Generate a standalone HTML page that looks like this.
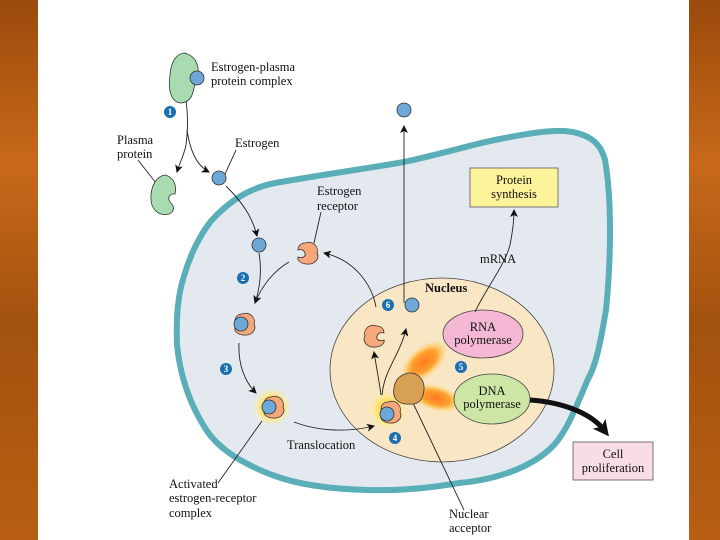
<!DOCTYPE html>
<html><head><meta charset="utf-8"><style>
html,body{margin:0;padding:0;width:720px;height:540px;overflow:hidden;background:#fff}
svg{display:block}
text{font-family:"Liberation Serif",serif;font-size:12.5px;fill:#111}
</style></head><body>
<svg width="720" height="540" viewBox="0 0 720 540" xmlns="http://www.w3.org/2000/svg">
<defs>
<linearGradient id="bd" x1="0" y1="0" x2="0" y2="1">
<stop offset="0" stop-color="#9a4a0c"/><stop offset="0.3" stop-color="#c8681a"/><stop offset="0.6" stop-color="#a2520f"/><stop offset="1" stop-color="#b85e14"/></linearGradient>
<radialGradient id="glow"><stop offset="0" stop-color="#ff7a20"/><stop offset="0.55" stop-color="#ffa030"/><stop offset="1" stop-color="#ffd84a" stop-opacity="0"/></radialGradient>
<radialGradient id="yg"><stop offset="0.5" stop-color="#ffe060"/><stop offset="1" stop-color="#fff4b0" stop-opacity="0"/></radialGradient>
<marker id="ah" markerWidth="8" markerHeight="8" refX="7" refY="4" orient="auto" markerUnits="userSpaceOnUse"><path d="M0,0 L8,4 L0,8 L2,4Z" fill="#111"/></marker>
<marker id="bh" markerWidth="16" markerHeight="16" refX="8" refY="8" orient="auto" markerUnits="userSpaceOnUse"><path d="M0,0 L16,8 L0,16 L4,8Z" fill="#111"/></marker>
</defs>
<rect x="0" y="0" width="38" height="540" fill="url(#bd)"/>
<rect x="689" y="0" width="31" height="540" fill="url(#bd)"/>
<path d="M211,221 C230,200 250,188 275,183 C320,175 370,168 404,162 C450,152 480,142 505,138 C530,133 550,130 565,131 C585,133 600,140 605,160 C612,200 611,260 606,310 C600,345 596,365 588,379 C575,410 565,435 551,448 C530,468 495,480 459,483 C430,488 400,491 367,490 C330,489 300,485 275,476 C245,465 220,450 207,431 C190,405 180,375 177,345 C176,315 178,295 184,276 C190,255 200,235 211,221Z" fill="#e4e9f0" stroke="#5aaeb8" stroke-width="6"/>
<ellipse cx="442" cy="370" rx="112" ry="92" fill="#f8e6c4" stroke="#444" stroke-width="0.8"/>
<ellipse cx="424" cy="362" rx="28" ry="15" transform="rotate(-40 424 362)" fill="url(#glow)"/>
<ellipse cx="436" cy="398" rx="26" ry="13" transform="rotate(15 436 398)" fill="url(#glow)"/>
<circle cx="272" cy="407" r="20" fill="url(#yg)"/>
<circle cx="388" cy="410" r="20" fill="url(#yg)"/>
<ellipse cx="483" cy="334" rx="40" ry="24" fill="#f5b8d4" stroke="#444" stroke-width="0.8"/>
<ellipse cx="492" cy="399" rx="38" ry="25" fill="#cde6a6" stroke="#444" stroke-width="0.8"/>
<text x="483" y="331" text-anchor="middle">RNA</text><text x="483" y="344" text-anchor="middle">polymerase</text>
<text x="492" y="395" text-anchor="middle">DNA</text><text x="492" y="408" text-anchor="middle">polymerase</text>
<rect x="470" y="168" width="88" height="39" fill="#fdf39a" stroke="#555" stroke-width="0.8"/>
<text x="514" y="184" text-anchor="middle">Protein</text><text x="514" y="198" text-anchor="middle">synthesis</text>
<rect x="573" y="442" width="80" height="38" fill="#f8dce6" stroke="#555" stroke-width="0.8"/>
<text x="613" y="458" text-anchor="middle">Cell</text><text x="613" y="472" text-anchor="middle">proliferation</text>
<g fill="none" stroke="#222" stroke-width="0.9">
<path d="M186,100 C188,115 188,130 186,145 C184,155 180,162 177,172" marker-end="url(#ah)"/>
<path d="M187,130 C190,150 196,165 209,172" marker-end="url(#ah)"/>
<path d="M226,186 C240,200 252,215 257,236" marker-end="url(#ah)"/>
<path d="M259,253 C262,270 260,288 255,303" marker-end="url(#ah)"/>
<path d="M289,262 C275,270 262,285 255,303" marker-end="url(#ah)"/>
<path d="M239,343 C238,365 245,382 256,393" marker-end="url(#ah)"/>
<path d="M294,422 C320,432 350,432 374,426" marker-end="url(#ah)"/>
<path d="M381,395 C379,380 376,365 374,352" marker-end="url(#ah)"/>
<path d="M382,395 C384,370 400,355 406,329" marker-end="url(#ah)"/>
<path d="M376,307 C372,285 355,260 324,253" marker-end="url(#ah)"/>
<path d="M404,303 L404,126" marker-end="url(#ah)"/>
<path d="M475,312 C485,290 505,265 510,245 C513,230 514,220 514,210" marker-end="url(#ah)"/>
<path d="M262,421 L218,483"/>
<path d="M413,403 L464,510"/>
<path d="M236,150 L225,174"/>
<path d="M138,160 L156,183"/>
<path d="M321,212 L314,243"/>
</g>
<path d="M530,400 C560,402 590,412 604,430" fill="none" stroke="#111" stroke-width="5" marker-end="url(#bh)"/>
<path d="M184,53 C198,56 200,70 197,78 C192,90 195,100 182,103 C170,103 168,88 170,75 C171,62 176,54 184,53Z" fill="#a8dcb0" stroke="#333" stroke-width="0.8"/>
<circle cx="197" cy="78" r="7" fill="#6ea8d8" stroke="#333" stroke-width="0.8"/>
<path d="M165,175 C174,177 177,186 175,194 C170,193 167,198 170,202 C173,205 175,208 172,212 C166,218 152,214 151,200 C150,186 157,176 165,175Z" fill="#a8dcb0" stroke="#333" stroke-width="0.8"/>
<g fill="#6ea8d8" stroke="#333" stroke-width="0.8">
<circle cx="404" cy="110" r="7"/><circle cx="219" cy="178" r="7"/><circle cx="259" cy="245" r="7"/><circle cx="412" cy="305" r="7"/>
</g>
<g fill="#f6a87a" stroke="#333" stroke-width="0.8">
<path transform="translate(307,253)" d="M-2,-10 C6,-13 12,-6 10,0 C13,5 8,12 0,11 C-6,11 -10,7 -9,4 C-4,6 -1,3 -2,0 C-3,-3 -6,-4 -9,-3 C-9,-7 -6,-10 -2,-10Z"/>
<path transform="translate(244,324)" d="M-2,-10 C6,-13 12,-6 10,0 C13,5 8,12 0,11 C-6,11 -10,7 -9,4 C-4,6 -1,3 -2,0 C-3,-3 -6,-4 -9,-3 C-9,-7 -6,-10 -2,-10Z"/>
<path transform="translate(273,407)" d="M-2,-10 C6,-13 12,-6 10,0 C13,5 8,12 0,11 C-6,11 -10,7 -9,4 C-4,6 -1,3 -2,0 C-3,-3 -6,-4 -9,-3 C-9,-7 -6,-10 -2,-10Z"/>
<path transform="translate(375,336) scale(-1,1)" d="M-2,-10 C6,-13 12,-6 10,0 C13,5 8,12 0,11 C-6,11 -10,7 -9,4 C-4,6 -1,3 -2,0 C-3,-3 -6,-4 -9,-3 C-9,-7 -6,-10 -2,-10Z"/>
<path transform="translate(390,412)" d="M-2,-10 C6,-13 12,-6 10,0 C13,5 8,12 0,11 C-6,11 -10,7 -9,4 C-4,6 -1,3 -2,0 C-3,-3 -6,-4 -9,-3 C-9,-7 -6,-10 -2,-10Z"/>
</g>
<path d="M405,374 C415,370 425,378 424,390 C423,400 418,405 410,404 C398,405 392,398 394,388 C395,380 399,376 405,374Z" fill="#d8a052" stroke="#333" stroke-width="0.8"/>
<g fill="#6ea8d8" stroke="#333" stroke-width="0.8">
<circle cx="241" cy="324" r="7"/><circle cx="269" cy="407" r="7"/><circle cx="387" cy="414" r="7"/>
</g>
<g fill="#1a6fb0"><circle cx="170" cy="112" r="6"/><circle cx="243" cy="278" r="6"/><circle cx="226" cy="369" r="6"/><circle cx="395" cy="438" r="6"/><circle cx="461" cy="367" r="6"/><circle cx="388" cy="305" r="6"/></g>
<g text-anchor="middle">
<text x="170" y="115" style="fill:#fff;font-size:9px;font-weight:bold">1</text><text x="243" y="281" style="fill:#fff;font-size:9px;font-weight:bold">2</text><text x="226" y="372" style="fill:#fff;font-size:9px;font-weight:bold">3</text><text x="395" y="441" style="fill:#fff;font-size:9px;font-weight:bold">4</text><text x="461" y="370" style="fill:#fff;font-size:9px;font-weight:bold">5</text><text x="388" y="308" style="fill:#fff;font-size:9px;font-weight:bold">6</text>
</g>
<text x="211" y="71">Estrogen-plasma</text><text x="211" y="85">protein complex</text>
<text x="117" y="144">Plasma</text><text x="117" y="158">protein</text>
<text x="235" y="147">Estrogen</text>
<text x="317" y="195">Estrogen</text><text x="317" y="210">receptor</text>
<text x="480" y="263">mRNA</text>
<text x="425" y="292" style="font-weight:bold">Nucleus</text>
<text x="287" y="449">Translocation</text>
<text x="169" y="488">Activated</text><text x="169" y="502">estrogen-receptor</text><text x="169" y="517">complex</text>
<text x="449" y="518">Nuclear</text><text x="449" y="532">acceptor</text>
</svg>
</body></html>
